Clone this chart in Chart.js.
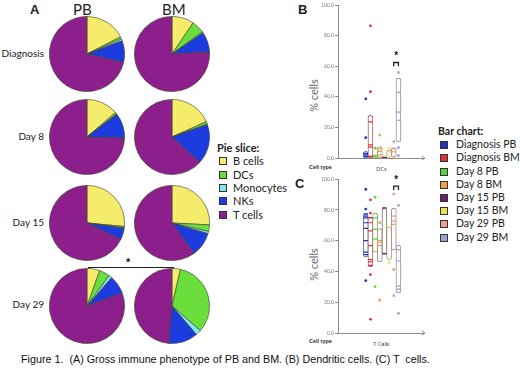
<!DOCTYPE html>
<html>
<head>
<meta charset="utf-8">
<script src="https://cdn.jsdelivr.net/npm/chart.js@4.4.1/dist/chart.umd.min.js"></script>
<style>
  body { margin: 0; background: #fff; }
  #wrap { position: relative; width: 520px; height: 368px; overflow: hidden; font-family: Lato, sans-serif; color: #222; }
  #wrap canvas, .t { position: absolute; }
  .t { white-space: pre; line-height: 1; }
  .panel { font: bold 13px "Liberation Sans", Arial, sans-serif; }
  .row { font-size: 10px; width: 44px; text-align: right; left: 0; }
  .head { font-size: 15px; }
  .sq { position: absolute; width: 6px; height: 6px; border: 1px solid #333; }
  .ct { font: bold 5.5px "Liberation Sans", Arial, sans-serif; color: #333; }
  .ytitle { font-size: 11px; color: #666; transform: rotate(-90deg); transform-origin: center; width: 50px; text-align: center; }
  #bracket { position: absolute; left: 88px; top: 267px; width: 84px; height: 3px; border: 1.3px solid #222; border-bottom: none; }
</style>
</head>
<body>
<div id="wrap">
  <div class="t panel" style="left:30px;top:2px">A</div>
  <div class="t panel" style="left:298px;top:2px">B</div>
  <div class="t panel" style="left:295px;top:176px">C</div>
  <div class="t head" style="left:73px;top:2px">PB</div>
  <div class="t head" style="left:162px;top:2px">BM</div>
  <div class="t row" style="top:48px">Diagnosis</div>
  <div class="t row" style="top:131px">Day 8</div>
  <div class="t row" style="top:217px">Day 15</div>
  <div class="t row" style="top:299px">Day 29</div>
  <div id="bracket"></div>
  <div class="t" style="left:126px;top:256px;font:bold 11px Arial,sans-serif">*</div>
  <div id="pieLegend"></div>
  <div id="barLegend"></div>
  <div class="t ytitle" style="left:288px;top:90px">% cells</div>
  <div class="t ytitle" style="left:288px;top:259px">% cells</div>
  <div class="t ct" style="left:309px;top:164px">Cell type</div>
  <div class="t ct" style="left:309px;top:338px">Cell type</div>
  <div class="t" style="left:21px;top:353px;font:10.75px 'Liberation Sans',Arial,sans-serif;color:#111">Figure 1.  (A) Gross immune phenotype of PB and BM. (B) Dendritic cells. (C) T  cells.</div>

  <canvas id="pie0" width="76" height="76" style="left:49px;top:16px"></canvas>
  <canvas id="pie1" width="76" height="76" style="left:134px;top:16px"></canvas>
  <canvas id="pie2" width="76" height="76" style="left:49px;top:99px"></canvas>
  <canvas id="pie3" width="76" height="76" style="left:134px;top:99px"></canvas>
  <canvas id="pie4" width="76" height="76" style="left:49px;top:185px"></canvas>
  <canvas id="pie5" width="76" height="76" style="left:134px;top:185px"></canvas>
  <canvas id="pie6" width="76" height="76" style="left:49px;top:268px"></canvas>
  <canvas id="pie7" width="76" height="76" style="left:134px;top:268px"></canvas>
  <canvas id="chartB" width="130" height="175" style="left:300px;top:0px"></canvas>
  <canvas id="chartC" width="130" height="176" style="left:300px;top:174px"></canvas>
</div>
<script>
// panel A: pie slices, % of cells
const pieSlices = ['B cells', 'DCs', 'Monocytes', 'NKs', 'T cells'];
const diagnosisPB = [17.5, 1, 0.8, 9.3, 71.4];
const diagnosisBM = [9.5, 5.5, 0.5, 8.7, 75.8];
const day8PB = [13.7, 0.8, 0.2, 10.7, 74.6];
const day8BM = [18.3, 1.1, 0.3, 17.1, 63.2];
const day15PB = [26.5, 0.5, 0.3, 4.9, 67.8];
const day15BM = [25.8, 2.8, 1, 10.4, 60];
const day29PB = [5.5, 4.5, 1.4, 8, 80.6];
const day29BM = [3.6, 32.8, 2.35, 12.65, 48.6];

// panels B and C: groups, boxes (low, high) and individual values
const groups = ['Diagnosis PB', 'Diagnosis BM', 'Day 8 PB', 'Day 8 BM', 'Day 15 PB', 'Day 15 BM', 'Day 29 PB', 'Day 29 BM'];
const dcBoxes = [[0, 4.3], [0.5, 27.9], [0, 2], [0, 7.5], [0, 0.6], [0, 5.4], [0, 6.8], [10.7, 52.3]];
const dcValues = [
  [38.7, 13.3, 3, 2, 1.2, 0.8],
  [86.5, 43.4, 23.6, 8.6, 7.1, 1, 0.5],
  [6.4, 1.5, 0.8],
  [15, 6, 4.3, 2.2, 0.5],
  [0.5, 0.2],
  [6.5, 4, 1],
  [10.7, 6, 4, 1],
  [56, 43, 30, 24.7, 6.8, 1.5]
];
const tBoxes = [[49.4, 77.4], [43, 75.3], [52.6, 78], [46.2, 67.9], [51.5, 81.3], [47.7, 68.9], [54, 81.3], [26, 57.2]];
const tValues = [
  [93.4, 80.6, 77.4, 76, 74.9, 71.7, 68, 60, 52.6, 50.9, 34],
  [86.6, 78, 74.9, 71.7, 66.4, 56.8, 47.7, 46.2, 44, 38, 8.9],
  [88.3, 74.9, 67.4, 61, 30.2],
  [71.7, 60, 59, 56.8, 21.3],
  [81.3, 51.5],
  [68.9, 45.5],
  [90.4, 76, 72.8, 70.6, 41.3, 24.3],
  [83, 54, 46.8, 30.6, 28.5, 12.8]
];
const dcStar = [60, 62.5];   // bracket base / top
const tStar = [93, 95.5];

const pieColors = ['#f5ec6c', '#6bde3c', '#84e6ef', '#1c3ce0', '#8c1f8c'];
const groupColors = ['#2233bb', '#d8323a', '#55d646', '#f0a24a', '#6e1e6e', '#ece44e', '#ec9a9a', '#9aa0d8'];
const boxColors = ['#6a72b4', '#b45a5a', '#80a678', '#a89480', '#6e6870', '#a4a07a', '#b48a8a', '#8e90aa'];

Chart.defaults.font.family = 'Lato, sans-serif';
Chart.defaults.animation = false;

[diagnosisPB, diagnosisBM, day8PB, day8BM, day15PB, day15BM, day29PB, day29BM].forEach((vals, i) => {
  new Chart(document.getElementById('pie' + i), {
    type: 'pie',
    data: {
      labels: pieSlices,
      datasets: [{ data: vals, backgroundColor: pieColors, borderColor: 'rgba(70,70,50,0.8)', borderWidth: 0.8, hoverOffset: 0 }]
    },
    options: {
      responsive: false,
      events: [],
      plugins: { legend: { display: false }, tooltip: { enabled: false } }
    }
  });
});

// legends
function legend(el, title, names, colors, x, y, step, size, gap) {
  let html = '<div class="t" style="font-size:' + size + 'px;font-weight:bold;left:' + (x - 2) + 'px;top:' + (y - 6) + 'px">' + title + '</div>';
  names.forEach((n, i) => {
    const cy = y + step * (i + 1);
    html += '<div class="sq" style="left:' + x + 'px;top:' + (cy - 4) + 'px;background:' + colors[i] + '"></div>';
    html += '<div class="t" style="font-size:' + size + 'px;left:' + (x + gap) + 'px;top:' + (cy - 6) + 'px">' + n + '</div>';
  });
  document.getElementById(el).innerHTML = html;
}
legend('pieLegend', 'Pie slice:', pieSlices, pieColors, 219, 148, 13.3, 11, 14);
legend('barLegend', 'Bar chart:', groups, groupColors, 440, 132, 13.2, 10.5, 16);

const inside = (box, v) => v >= box[0] - 0.01 && v <= box[1] + 0.01;

const extras = {
  id: 'extras',
  afterDatasetsDraw(chart, args, opts) {
    const { ctx, scales: { x, y }, chartArea } = chart;
    ctx.save();
    ctx.fillStyle = '#111';
    ctx.font = 'bold 10px Arial';
    ctx.textAlign = 'center';
    ctx.textBaseline = 'bottom';
    ctx.fillText('*', x.getPixelForValue(7.5), y.getPixelForValue(opts.star) + 5);
    // axis arrow
    ctx.strokeStyle = '#888';
    ctx.lineWidth = 1;
    ctx.beginPath();
    ctx.moveTo(chartArea.right - 3, chartArea.bottom - 2);
    ctx.lineTo(chartArea.right, chartArea.bottom);
    ctx.lineTo(chartArea.right - 3, chartArea.bottom + 2);
    ctx.stroke();
    ctx.restore();
  }
};

function dotChart(id, boxes, values, star, cellName) {
  const datasets = [{
    type: 'bar',
    data: boxes.map((b, i) => ({ x: i + 1, y: b })),
    backgroundColor: '#fff',
    borderColor: boxColors,
    borderWidth: 1,
    borderRadius: 3,
    borderSkipped: false,
    barThickness: 5,
    order: 3
  }];
  values.forEach((vals, i) => {
    datasets.push({
      type: 'scatter',
      label: groups[i],
      data: vals.map(v => ({ x: i + 1, y: v })),
      backgroundColor: groupColors[i],
      borderColor: groupColors[i],
      pointStyle: c => inside(boxes[i], c.raw.y) ? 'line' : 'circle',
      pointRadius: c => inside(boxes[i], c.raw.y) ? 2.3 : 1.4,
      pointBorderWidth: c => inside(boxes[i], c.raw.y) ? 1.2 : 0,
      order: 2
    });
  });
  datasets.push({
    type: 'line',
    data: [{ x: 7, y: star[0] }, { x: 7, y: star[1] }, { x: 8, y: star[1] }, { x: 8, y: star[0] }],
    borderColor: '#222',
    borderWidth: 1.3,
    pointRadius: 0,
    fill: false,
    order: 1
  });
  return new Chart(document.getElementById(id), {
    type: 'bar',
    data: { datasets },
    plugins: [extras],
    options: {
      responsive: false,
      events: [],
      layout: { padding: { top: 3, right: 5, left: 0, bottom: 0 } },
      plugins: { legend: { display: false }, tooltip: { enabled: false }, extras: { star: star[1] + 4 } },
      scales: {
        x: {
          type: 'linear',
          min: -0.3,
          max: 9,
          ticks: { display: false },
          grid: { display: false },
          border: { color: '#888' },
          title: { display: true, text: cellName, color: '#444', font: { size: 5.5 }, padding: { top: 4, bottom: 2 } },
          afterFit: s => { s.height = 17; }
        },
        y: {
          min: 0,
          max: 100,
          ticks: { stepSize: 20, color: '#777', font: { size: 5 }, padding: 1, callback: v => v.toFixed(1) },
          grid: { drawOnChartArea: false, tickLength: 3, color: '#888' },
          border: { color: '#888' },
          afterFit: s => { s.width = 38; }
        }
      }
    }
  });
}

dotChart('chartB', dcBoxes, dcValues, dcStar, 'DCs');
dotChart('chartC', tBoxes, tValues, tStar, 'T Cells');
</script>
</body>
</html>
